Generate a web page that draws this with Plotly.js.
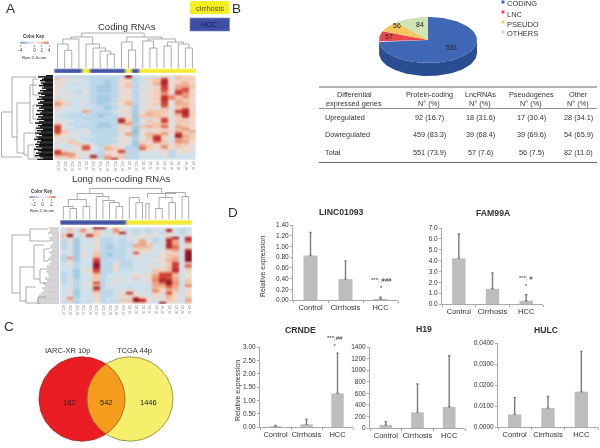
<!DOCTYPE html>
<html>
<head>
<meta charset="utf-8">
<script src="https://cdn.plot.ly/plotly-3.0.1.min.js"></script>
<style>
  html, body { margin: 0; padding: 0; background: #fff; }
  #chart { width: 600px; height: 448px; filter: blur(0.4px); }
  /* the reference heatmaps are soft, rows and columns bleed into each other */
  #chart .hm image { filter: blur(0.8px); }
</style>
</head>
<body>
<div id="chart"></div>
<script>
// --- data ---

// Panel A, coding RNAs: row z-scores
const codingZ = [
  [-1,-1,-1,-1,-1,-1,-1,-1,-1,-1,4,-1,-.5,-.5,0,.5,0,1,.5,.5],
  [1,.5,0,0,-.5,-1,-1,-1,-1,.5,1,-1,-.5,.5,1,3,0,1,.5,1],
  [.5,0,-.5,0,-.5,-1,-1,-1.5,-1,.5,.5,-1,-.5,.5,1,3.5,0,.5,1,.5],
  [0,-.5,-.5,-1,-.5,-1,-1,-1.5,-1,0,1,-1,-.5,.5,1.5,3.5,.5,1,1.5,.5],
  [.5,0,-.5,-.5,-.5,-1,-1.5,-1.5,-1,.5,1,-1,0,0,.5,3,0,1.5,1.5,1],
  [0,-.5,-.5,-.5,-.5,-1,-1.5,-1.5,-1,0,.5,-1,-.5,.5,1,3,.5,1.5,3,.5],
  [0,0,-.5,-1,0,-1,-1.5,-1.5,-1,.5,0,-1,-.5,0,.5,2.5,0,3,2.5,.5],
  [.5,0,-.5,-.5,-.5,-1,-1,-1,-1,0,.5,-1,0,.5,1,1.5,0,3,1.5,.5],
  [-.5,0,0,-.5,-.5,-1,-1.5,-1.5,-1,0,.5,-1,0,.5,.5,3,2,1,2,.5],
  [0,-.5,-.5,-.5,-.5,-1,-1.5,-1.5,-1,.5,0,-1,-.5,0,1,3.5,2,1,1,.5],
  [1,.5,-.5,-.5,0,-1,-1.5,-1.5,-1,.5,1,-1,0,.5,.5,3,0,1.5,1,.5],
  [2,1,-.5,-.5,-.5,-1,-1.5,-1,-.5,.5,1.5,-1,-.5,.5,1,3,0,1.5,1.5,.5],
  [1,0,-.5,-.5,-.5,-.5,-1,-1.5,-1,0,.5,-1.5,0,.5,0,2.5,0,1,1,.5],
  [0,0,0,-.5,0,-1,-1,-1.5,-1,0,0,-1,0,0,0,.5,0,1,3,.5],
  [0,-.5,-.5,-.5,1.5,-1,-1,-1,-.5,.5,.5,-1.5,0,1,1,1,0,3,3.5,.5],
  [-.5,-.5,-1,-1,-.5,-1,-1.5,-1.5,-1,0,0,-1.5,.5,1.5,1,.5,0,1.5,3.5,1],
  [-.5,-1,-1,-1,-1,-1,-1.5,-1,-1,0,.5,-1.5,1,1,1,1,0,1,3,.5],
  [0,-.5,-.5,-.5,-1,-1,-1,-1,-1,3,.5,-1.5,-.5,-.5,.5,3,0,.5,.5,.5],
  [0,0,-.5,-1,-.5,-1,-1,-1,-1,3.5,1,-1.5,0,1,.5,3,0,1,1,.5],
  [1,-.5,-1,-.5,-1,-1,-1.5,-1.5,-1,1,2,-1,-.5,0,1,1,0,.5,.5,.5],
  [3,0,-.5,-1,-1,-1,-1.5,-1.5,-1,.5,.5,-1.5,1,1.5,1,2.5,0,1.5,1,.5],
  [3,0,-.5,-.5,-.5,-1,-1,-1,-1,.5,0,-1.5,0,.5,0,.5,0,1,2,.5],
  [3,1,-.5,-.5,0,-1,-1,-1,-1,0,.5,-2,0,0,.5,1,.5,1.5,1,1.5],
  [2,.5,0,-.5,-.5,-1,-1,-1,-1,0,2,-1.5,.5,1.5,1,2,0,3.5,1,.5],
  [.5,0,0,0,-.5,-.5,-1,-1,-1,0,.5,-1.5,0,1,3,.5,0,3.5,1.5,1],
  [0,0,-.5,-.5,-1,-1,-1,-1,-.5,0,0,-1,0,1,3.5,.5,0,1.5,1,.5],
  [0,.5,1,0,-.5,-1,-1,-1,-1,.5,0,-1.5,.5,.5,2.5,1,0,2,1.5,.5],
  [-.5,-.5,.5,1,0,0,-1,-1,-.5,0,0,-1.5,1,.5,.5,.5,0,1,1,.5],
  [0,-.5,-.5,.5,2.5,0,-1,1,.5,0,-1,-1.5,2,1,.5,2,.5,1,.5,0],
  [.5,-.5,0,0,3,0,-.5,1.5,1,.5,-1,-1,2.5,.5,0,1,.5,0,.5,0],
  [3,1,0,0,.5,-.5,-1,.5,.5,3,-1,-1,0,0,0,.5,-1,0,.5,0],
  [3,2.5,2,0,0,-.5,-1,.5,.5,.5,-1,-1,-.5,-.5,-.5,0,-1,0,0,-.5],
  [1,1,1.5,.5,-.5,3.5,-1,1.5,.5,1,-1,-1,-.5,-.5,-.5,0,-1,-.5,-.5,-.5],
  [0,0,.5,0,0,1,-1,2,3.5,.5,-1,-1,-.5,-.5,-.5,-.5,-.5,-.5,-.5,-.5]
];
// 0 = HCC, 1 = cirrhosis
const codingGroups = [0,0,0,0,1,0,0,0,0,0,1,0,1,1,1,1,1,1,1,1];
const codingSamples = ['HCC_01','HCC_02','HCC_03','HCC_04','CIR_01','HCC_05','HCC_06','HCC_07','HCC_08','HCC_09','CIR_02','HCC_10','CIR_03','CIR_04','CIR_05','CIR_06','CIR_07','CIR_08','CIR_09','CIR_10'];
// [left, right, height, left child height, right child height]
const codingColLinks = [
  [1,2,17.7,0,0],[0,1.5,24,0,17.7],[.75,3,29,24,0],[7,8,14,0,0],[6,7.5,17,0,14],[5,6.75,20,0,17],[4,5.9,24,0,20],
  [1.9,4.95,31,29,24],[10,11,18,0,0],[9,10.5,26,0,18],[13,14,20,0,0],[12,13.5,27,0,20],[18,19,20,0,0],[17,18.5,24,0,20],
  [15,16,22,0,0],[15.5,17.75,26,22,24],[12.75,16.6,29,27,26],[9.75,14.7,31,26,29],[3.4,12.2,35,31,31]
];
// [top, bottom, depth, top child depth, bottom child depth]
const codingRowLinks = [
  [37,82,1.5,12,22],[2,62,12,36,17],[28,78,17,30,24],[10,48,30,37,33],[58,80,24,36,28],[70,84,28,34,38],
  [4,20,33,38,40],[30,44,33,39,37],[52,62,36,40,39],[73,82,34,40,41]
];
const codingCombLeft = [46,38,44,42,40,45,41,43,39,44,42,46,40,43,38,41,45,39,42,37,44,40,38,43,36,41,39,44,37,42,40,36,43,38,41,37,44,39,35,42,38,40,36,43,37,41,35,39,42,36,38,34,41,37,40,35,39,36,42,34,38,41,36,39,35,40,43,37];

// Panel A, long non-coding RNAs: row z-scores
const lncZ = [
  [-.5,1,-.5,0,0,4,4,0,1,0,-.5,-.5,-.5,-.5,0,0,0,-.5,-.5,-.5],
  [-.5,1,-.5,2,0,1,-.5,-.5,2,0,-.5,-1,-.5,-1,-.5,-.5,3.5,-.5,-1,-.5],
  [0,.5,-.5,.5,0,1,-.5,-.5,1,4,-.5,-1,-.5,-1,-.5,-1,.5,-.5,-1,0],
  [1,4,-.5,0,3,1,0,-.5,0,0,0,-.5,0,.5,0,0,0,0,-.5,.5],
  [0,.5,-1,0,-.5,0,-1,-1,-.5,-1,-.5,0,0,-.5,-1,-.5,2,4,-.5,3.5],
  [-1,0,-1.5,-.5,-.5,.5,-1,-1,-.5,-1,-.5,0,1.5,0,-1,-.5,3.5,1.5,-.5,3],
  [-1,0,-1.5,-.5,-.5,0,-1,-1,-.5,-1,-1,.5,1.5,.5,-1,-.5,3,1.5,-.5,1.5],
  [-1,-.5,-1.5,0,-.5,0,-1,-1.5,-.5,-1,-1,1.5,1.5,1,-.5,-.5,3.5,2,-.5,.5],
  [-1,-.5,-1.5,0,-.5,.5,-1,-1.5,-1,-1,-.5,1,1,1,-.5,0,3,2.5,-.5,.5],
  [-.5,-.5,-1.5,-.5,-.5,.5,-1,-1,-1,-1,-.5,.5,.5,.5,-.5,-.5,1,1.5,-.5,3.5],
  [-.5,-.5,-1.5,0,-.5,1,-1,-1.5,-1,-1,-.5,3,0,0,-.5,0,.5,.5,-.5,4],
  [-1,0,-1.5,0,-.5,1,-1,-1.5,-1,-1,-.5,.5,-.5,-.5,-.5,.5,1,1,-.5,4],
  [-1,2,-1.5,0,-.5,2,-1,-1,-1,-1,-.5,-.5,-.5,-.5,0,.5,.5,1.5,-.5,4],
  [-1,.5,-1.5,-.5,-.5,3,-1,-1,-.5,-1,-1,-.5,-.5,-.5,0,0,1.5,1.5,-.5,4],
  [-.5,0,-1,-.5,-.5,3.5,-1,-1,0,-1,-1,-.5,-.5,-.5,-.5,.5,.5,3,-.5,.5],
  [-.5,0,-1,-.5,-.5,4,-1,-1,.5,-1,-1,-.5,-.5,0,-.5,0,1,3,-.5,2.5],
  [-.5,-.5,-1,0,-.5,3.5,-1,-1,.5,-1,-1,-.5,-.5,-.5,.5,.5,1,3,-.5,1.5],
  [-.5,-.5,-1.5,0,.5,3,-1,-1,.5,-.5,-.5,-.5,-.5,-.5,1,.5,1,3.5,-.5,.5],
  [-1,-.5,-1.5,-.5,0,2,-1,-1,-.5,-.5,-.5,0,-.5,0,1,2.5,2.5,2,-.5,.5],
  [-1,-.5,-1.5,-.5,0,1,-1,-.5,-.5,-.5,-.5,.5,0,.5,1.5,3,3,1,-.5,0],
  [-1,0,-1.5,-.5,-.5,1,-1,-.5,0,-.5,-.5,1,-.5,0,2,3,2.5,1.5,-.5,.5],
  [-1,0,-1,-.5,-.5,1,-1,-.5,.5,-.5,0,-.5,-.5,.5,2,3.5,3.5,1.5,-.5,1],
  [-1,-.5,-1,0,0,3,-1,-.5,0,0,-.5,-.5,0,-.5,1.5,2.5,4,2,-.5,.5],
  [-.5,-.5,-1,-.5,0,1.5,-1,-.5,-.5,-.5,-.5,-.5,-.5,-.5,1.5,1.5,3,1.5,-.5,2],
  [-.5,-.5,-1,0,-.5,4,-1,-.5,-.5,-.5,-1,-.5,-.5,-.5,1,1,2,1.5,-.5,.5],
  [-.5,.5,-1.5,-.5,-.5,2,-1,-1,-.5,0,.5,-.5,-.5,-.5,2,.5,1.5,1,-.5,.5],
  [-.5,0,-1.5,-.5,-.5,.5,-1,-1,-.5,0,3.5,0,0,-.5,1,.5,3,.5,-.5,.5],
  [-.5,0,-1.5,-.5,-.5,.5,-1,-1,-.5,.5,1,0,0,-.5,.5,-.5,1.5,.5,-.5,.5],
  [0,2,-1,-.5,-.5,.5,-1,-.5,-.5,0,-.5,3,1,0,.5,.5,1,.5,-.5,1],
  [-.5,1,-1,-.5,-.5,.5,-1,-.5,-.5,1,1,4,3.5,.5,-.5,0,1,.5,-.5,1.5],
  [-1,-.5,-1.5,-1,-1,0,-1,-1,-1,.5,.5,1,1,-.5,-.5,4,.5,0,-.5,1]
];
const lncGroups = [0,0,0,0,0,0,0,0,0,0,1,1,1,1,1,1,1,1,1,1];
const lncSamples = ['HCC_01','HCC_02','HCC_03','HCC_04','HCC_05','HCC_06','HCC_07','HCC_08','HCC_09','HCC_10','CIR_01','CIR_02','CIR_03','CIR_04','CIR_05','CIR_06','CIR_07','CIR_08','CIR_09','CIR_10'];
const lncColLinks = [
  [1,2,11,0,0],[0,1.5,13,0,11],[3,4,13,0,0],[.75,3.5,20,13,13],[8,9,13,0,0],[7,8.5,17,0,13],[6,7.75,19,0,17],[5,6.9,23,0,19],
  [2.1,6,26,20,23],[11,12,17,0,0],[12.5,13,16,0,0],[10,11.5,22,0,17],[14,15,11,0,0],[16,17,17,0,0],[18,19,23,0,0],
  [14.5,16.5,22,11,17],[15.5,18.5,27,22,23],[12.75,17,26,22,27],[4,14.9,31,26,26]
];
const lncRowLinks = [
  [8,66,12,30,20],[2,14,30,48,50],[40,74,20,34,26],[18,52,34,44,40],[60,76,26,36,38],[22,34,44,50,48],[42,56,40,50,46],[70,77,38,46,40]
];
const lncCombLeft = [49,50,48,52,49,50,53,51,50,52,49,51,50,48,51,49,47,50,46,48,49,45,47,43,45,42,44,41,39,38,37,38];

// Panel A, colour keys
const codingKeyValues = [-4,-3,-2,-1,0,1,2,3,4];
const codingKeyTicks = [-4,0,2,4];
const lncKeyValues = [-3,-2,-1,0,1,2,3];
const lncKeyTicks = [-2,0,2];

// Panel B, pie and table
const pieLabels = ['CODING', 'LNC', 'PSEUDO', 'OTHERS'];
const pieValues = [551, 57, 56, 84];
const tableHeaderTop = ['Differential', 'Protein-coding', 'LncRNAs', 'Pseudogenes', 'Other'];
const tableHeaderBottom = ['expressed genes', 'N° (%)', 'N° (%)', 'N° (%)', 'N° (%)'];
const tableRowNames = ['Upregulated', 'Dowregulated', 'Total'];
const tableCoding = ['92 (16.7)', '459 (83.3)', '551 (73.9)'];
const tableLnc = ['18 (31.6)', '39 (68.4)', '57 (7.6)'];
const tablePseudo = ['17 (30.4)', '39 (69.6)', '56 (7.5)'];
const tableOther = ['28 (34.1)', '54 (65.9)', '82 (11.0)'];

// Panel C, Venn counts
const vennTitles = ['IARC-XR 10p', 'TCGA 44p'];
const vennCounts = ['182', '542', '1446'];

// Panel D, bars: mean and upper error
const groups = ['Control', 'Cirrhosis', 'HCC'];
const linc01093Mean = [0.83, 0.39, 0.02];
const linc01093Err = [0.43, 0.34, 0.03];
const fam99aMean = [4.2, 1.4, 0.3];
const fam99aErr = [2.25, 1.45, 0.55];
const crndeMean = [0.03, 0.1, 1.26];
const crndeErr = [0.03, 0.18, 1.51];
const h19Mean = [50, 270, 365];
const h19Err = [60, 490, 885];
const hulcMean = [0.006, 0.009, 0.0168];
const hulcErr = [0.008, 0.0055, 0.0192];

// --- helpers ---

const FONT = '"Liberation Sans", Arial, sans-serif';
const traces = [];
const annotations = [];
const shapes = [];
const layout = {
    width: 600,
    height: 448,
    margin: { l: 0, r: 0, t: 0, b: 0 },
    paper_bgcolor: '#fff',
    plot_bgcolor: 'rgba(0,0,0,0)',
    showlegend: false,
    font: { family: FONT, color: '#333' }
};

const hidden = { visible: false, fixedrange: true };
let axisCount = 0;

// makes an x/y axis pair placed by pixels, returns the ids for a trace
const addAxes = (left, right, top, bottom, xOpts, yOpts) => {
    axisCount += 1;
    const n = axisCount === 1 ? '' : axisCount;
    layout['xaxis' + n] = Object.assign({}, hidden, {
        domain: [left / 600, right / 600], anchor: 'y' + n
    }, xOpts);
    layout['yaxis' + n] = Object.assign({}, hidden, {
        domain: [1 - bottom / 448, 1 - top / 448], anchor: 'x' + n
    }, yOpts);
    return { xaxis: 'x' + n, yaxis: 'y' + n };
};

const note = (text, x, y, size, extra) => {
    annotations.push(Object.assign({
        text: text, x: x / 600, y: 1 - y / 448, xref: 'paper', yref: 'paper',
        showarrow: false, xanchor: 'center', yanchor: 'middle', borderpad: 0,
        font: { size: size, family: FONT, color: '#333' }
    }, extra));
};

const hline = (x0, x1, y, color, width) => {
    shapes.push({
        type: 'line', xref: 'paper', yref: 'paper', x0: x0 / 600, x1: x1 / 600,
        y0: 1 - y / 448, y1: 1 - y / 448, line: { color: color, width: width }
    });
};

const heatScale = [
    [0, '#2b4b9b'], [0.25, '#8fbcdc'], [0.375, '#bcd7ea'], [0.44, '#d0e0ea'], [0.5, '#e0dedc'],
    [0.56, '#efd8ca'], [0.625, '#f2c4aa'], [0.75, '#e88a66'], [0.875, '#cf3d33'], [1, '#8f0d22']
];

// U shaped links for a column dendrogram
const colDendro = (links, axes) => {
    const x = [], y = [];
    links.forEach(l => {
        x.push(l[0], l[0], l[1], l[1], null);
        y.push(l[3], l[2], l[2], l[4], null);
    });
    traces.push(Object.assign({ type: 'scatter', mode: 'lines', x: x, y: y, line: { color: '#8a8a8a', width: 0.7 }, hoverinfo: 'skip' }, axes));
};

// sideways links and the dense leaf comb of a row dendrogram
const rowDendro = (links, comb, combEnd, combColor, combWidth, axes) => {
    const x = [], y = [];
    links.forEach(l => {
        x.push(l[3], l[2], l[2], l[4], null);
        y.push(l[0], l[0], l[1], l[1], null);
    });
    const cx = [], cy = [];
    comb.forEach((left, i) => {
        const pos = (i + 0.5) * comb.total / comb.length;
        cx.push(left, combEnd, null);
        cy.push(pos, pos, null);
    });
    traces.push(Object.assign({ type: 'scatter', mode: 'lines', x: cx, y: cy, line: { color: combColor, width: combWidth }, hoverinfo: 'skip' }, axes));
    traces.push(Object.assign({ type: 'scatter', mode: 'lines', x: x, y: y, line: { color: '#8a8a8a', width: 0.7 }, hoverinfo: 'skip' }, axes));
};

const heatPanel = (z, sampleNames, sideGroups, left, right, top, bottom, barTop, barBottom) => {
    const idx = sampleNames.map((s, i) => i);
    const axes = addAxes(left, right, top, bottom, {
        visible: true, range: [-0.5, idx.length - 0.5], tickvals: idx, ticktext: sampleNames,
        tickangle: 90, ticks: '', showline: false, showgrid: false, zeroline: false,
        tickfont: { size: 2.6, color: '#888', family: FONT }
    }, { range: [z.length - 0.5, -0.5] });
    traces.push(Object.assign({
        type: 'heatmap', z: z, zmin: -4, zmax: 4,
        colorscale: heatScale, showscale: false, hoverinfo: 'skip'
    }, axes));
    const sideAxes = addAxes(left, right, barTop, barBottom, { range: [-0.5, idx.length - 0.5] }, {});
    traces.push(Object.assign({
        type: 'heatmap', z: [sideGroups], zmin: 0, zmax: 1,
        colorscale: [[0, '#3c4ea3'], [1, '#f4e82c']], showscale: false, hoverinfo: 'skip', xgap: 0
    }, sideAxes));
};

const keyPanel = (values, ticks, left, right, top, bottom) => {
    const axes = addAxes(left, right, top, bottom, {
        visible: true, range: [values[0], values[values.length - 1]], tickvals: ticks,
        ticks: 'outside', ticklen: 2, tickwidth: 0.5, tickcolor: '#555', showgrid: false, zeroline: false,
        tickfont: { size: 4.5, color: '#444', family: FONT }
    }, { range: [-0.5, 0.5] });
    traces.push(Object.assign({
        type: 'heatmap', x: values, z: [values], zmin: values[0], zmax: values[values.length - 1],
        zsmooth: 'best', colorscale: heatScale, showscale: false, hoverinfo: 'skip'
    }, axes));
};

const barPanel = (means, errs, left, right, top, bottom, maxY, step, fmt) => {
    const axes = addAxes(left, right, top, bottom, {
        visible: true, type: 'category', categoryorder: 'array', categoryarray: groups,
        tickson: 'boundaries', ticks: 'outside', ticklen: 2, tickcolor: '#aaa', showline: true, tickangle: 0,
        linecolor: '#aaa', linewidth: 1, showgrid: false, zeroline: false,
        tickfont: { size: 7.5, color: '#333', family: FONT }
    }, {
        visible: true, range: [0, maxY], dtick: step, tickformat: fmt, ticks: 'outside', ticklen: 2,
        tickcolor: '#aaa', showline: true, linecolor: '#aaa', linewidth: 1, showgrid: false, zeroline: false,
        tickfont: { size: 6.5, color: '#333', family: FONT }
    });
    traces.push(Object.assign({
        type: 'bar', x: groups, y: means, width: 0.4, marker: { color: '#bdbdbd' }, hoverinfo: 'skip',
        error_y: { type: 'data', symmetric: false, array: errs, arrayminus: [0, 0, 0], color: '#7c7c7c', thickness: 1.4, width: 1.2 }
    }, axes));
};

// --- panel A ---

heatPanel(codingZ, codingSamples, codingGroups, 54, 196, 75, 160, 68.5, 73);
const codingColAxes = addAxes(54, 196, 32, 68, { range: [-0.5, 19.5] }, { range: [0, 36] });
colDendro(codingColLinks, codingColAxes);
const codingRowAxes = addAxes(0, 53, 75, 160, { range: [0, 53] }, { range: [85, 0] });
codingCombLeft.total = 85;
rowDendro(codingRowLinks, codingCombLeft, 53, '#111', 1.5, codingRowAxes);
keyPanel(codingKeyValues, codingKeyTicks, 20, 49, 41.5, 44);

heatPanel(lncZ, lncSamples, lncGroups, 60, 192, 227, 304, 220, 225);
const lncColAxes = addAxes(60, 192, 187, 219.5, { range: [-0.5, 19.5] }, { range: [0, 32.5] });
colDendro(lncColLinks, lncColAxes);
const lncRowAxes = addAxes(0, 59, 227, 304, { range: [0, 59] }, { range: [77, 0] });
lncCombLeft.total = 77;
rowDendro(lncRowLinks, lncCombLeft, 59, '#d2d2d2', 2.6, lncRowAxes);
keyPanel(lncKeyValues, lncKeyTicks, 29, 56, 196, 198);

note('A', 10, 8, 13.5);
note('Coding RNAs', 126.5, 26, 9.5);
note('Long non-coding RNAs', 121, 178, 9.5);
note('<b>Color Key</b>', 34, 37, 4.5);
note('Row Z-Score', 34, 58, 4.2);
note('<b>Color Key</b>', 42, 191, 4.5);
note('Row Z-Score', 42, 211, 4.2);

// group key boxes
shapes.push({ type: 'rect', xref: 'paper', yref: 'paper', x0: 190 / 600, x1: 229.5 / 600, y0: 1 - 14 / 448, y1: 1 - 1 / 448, fillcolor: '#f6ee1e', line: { width: 0 } });
shapes.push({ type: 'rect', xref: 'paper', yref: 'paper', x0: 190 / 600, x1: 229.5 / 600, y0: 1 - 31 / 448, y1: 1 - 18 / 448, fillcolor: '#3f4fa5', line: { color: '#7f8ac4', width: 0.7 } });
note('cirrhosis', 209.5, 8, 7.5, { font: { size: 7.5, family: FONT, color: '#55551a' } });
note('HCC', 209.5, 25, 7.5, { font: { size: 7.5, family: FONT, color: '#141a55' } });

// --- panel B ---

const pieAxes = addAxes(368, 488, 5, 85, { range: [-60, 60] }, { range: [-45, 35] });
const pieColors = ['#3f67b5', '#e8474e', '#f8c55e', '#d0e4b8'];
const pieSideColors = ['#2a4c90', '#b03338', '#c79a40', '#a4b690'];
const pieTotal = pieValues.reduce((a, b) => a + b, 0);
const pieRx = 49, pieRy = 23, pieDepth = 13;
let pieStart = 0;
pieValues.forEach((value, i) => {
    const a0 = 90 - 360 * pieStart / pieTotal;
    const a1 = 90 - 360 * (pieStart + value) / pieTotal;
    const edgeX = [], edgeY = [];
    for (let k = 0; k <= 90; k++) {
        const t = (a0 + (a1 - a0) * k / 90) * Math.PI / 180;
        edgeX.push(pieRx * Math.cos(t));
        edgeY.push(pieRy * Math.sin(t));
    }
    // rim of the slice, only where it faces the front
    const frontX = edgeX.filter((v, k) => edgeY[k] <= 0);
    const frontY = edgeY.filter(v => v <= 0);
    if (frontX.length > 1) {
        traces.push(Object.assign({
            type: 'scatter', mode: 'lines', fill: 'toself', fillcolor: pieSideColors[i], line: { width: 0 }, hoverinfo: 'skip',
            x: frontX.concat(frontX.slice().reverse()),
            y: frontY.concat(frontY.slice().reverse().map(v => v - pieDepth))
        }, pieAxes));
    }
    pieStart += value;
});
pieStart = 0;
pieValues.forEach((value, i) => {
    const a0 = 90 - 360 * pieStart / pieTotal;
    const a1 = 90 - 360 * (pieStart + value) / pieTotal;
    const sx = [0], sy = [0];
    for (let k = 0; k <= 90; k++) {
        const t = (a0 + (a1 - a0) * k / 90) * Math.PI / 180;
        sx.push(pieRx * Math.cos(t));
        sy.push(pieRy * Math.sin(t));
    }
    sx.push(0);
    sy.push(0);
    traces.push(Object.assign({
        type: 'scatter', mode: 'lines', fill: 'toself', fillcolor: pieColors[i], line: { width: 0 }, hoverinfo: 'skip', x: sx, y: sy
    }, pieAxes));
    pieStart += value;
});

const pieLabelX = [452, 389, 397, 420];
const pieLabelY = [48, 36, 25.5, 25];
pieValues.forEach((value, i) => note(String(value), pieLabelX[i], pieLabelY[i], 7, { font: { size: 7, family: FONT, color: '#222' } }));

const legendY = [4, 14, 24, 34];
pieLabels.forEach((label, i) => {
    shapes.push({ type: 'rect', xref: 'paper', yref: 'paper', x0: 501.5 / 600, x1: 504.5 / 600, y0: 1 - (legendY[i] - 0.5) / 448, y1: 1 - (legendY[i] - 3.5) / 448, fillcolor: pieColors[i], line: { width: 0 } });
    note(label, 506, legendY[i], 7.5, { xanchor: 'left' });
});

note('B', 236, 8, 13.5);

const tableColX = [354, 429, 480, 531, 578];
tableHeaderTop.forEach((t, i) => note(t, tableColX[i], 94.5, 7.3));
tableHeaderBottom.forEach((t, i) => note(t, tableColX[i], 103, 7.3));
const tableRowY = [117, 134.5, 152];
tableRowNames.forEach((t, i) => {
    note(t, 324, tableRowY[i], 7.3, { xanchor: 'left' });
    note(tableCoding[i], tableColX[1], tableRowY[i], 7.3);
    note(tableLnc[i], tableColX[2], tableRowY[i], 7.3);
    note(tablePseudo[i], tableColX[3], tableRowY[i], 7.3);
    note(tableOther[i], tableColX[4], tableRowY[i], 7.3);
});
hline(319, 597, 87, '#666', 1);
hline(319, 597, 108.5, '#777', 0.8);
hline(319, 597, 162.5, '#666', 1);

// --- panel C ---

const vennAxes = addAxes(30, 180, 350, 450, { range: [30, 180] }, { range: [450, 350] });
const vennR = 43;
const circlePoints = (cx, cy, r, from, to) => {
    const xs = [], ys = [];
    for (let k = 0; k <= 120; k++) {
        const t = (from + (to - from) * k / 120) * Math.PI / 180;
        xs.push(cx + r * Math.cos(t));
        ys.push(cy + r * Math.sin(t));
    }
    return { x: xs, y: ys };
};
const leftCircle = circlePoints(82, 400, vennR, 0, 360);
const rightCircle = circlePoints(130, 400, vennR, 0, 360);
const lensAngle = Math.acos(24 / vennR) * 180 / Math.PI;
const lensA = circlePoints(82, 400, vennR, -lensAngle, lensAngle);
const lensB = circlePoints(130, 400, vennR, 180 - lensAngle, 180 + lensAngle);
traces.push(Object.assign({ type: 'scatter', mode: 'lines', fill: 'toself', fillcolor: '#ec1c24', line: { color: '#8e2a25', width: 0.8 }, hoverinfo: 'skip' }, leftCircle, vennAxes));
traces.push(Object.assign({ type: 'scatter', mode: 'lines', fill: 'toself', fillcolor: '#f5ef6c', line: { color: '#85803a', width: 0.8 }, hoverinfo: 'skip' }, rightCircle, vennAxes));
traces.push(Object.assign({
    type: 'scatter', mode: 'lines', fill: 'toself', fillcolor: '#f59c1c', line: { color: '#8a5a20', width: 0.8 }, hoverinfo: 'skip',
    x: lensA.x.concat(lensB.x), y: lensA.y.concat(lensB.y)
}, vennAxes));

note('C', 9, 326, 13.5);
note(vennTitles[0], 67, 350, 7.5);
note(vennTitles[1], 134, 350, 7.5);
const vennCountX = [69, 106.5, 148.5];
vennCounts.forEach((t, i) => note(t, vennCountX[i], 402, 7.5, { font: { size: 7.5, family: FONT, color: '#222' } }));

// --- panel D ---

barPanel(linc01093Mean, linc01093Err, 293, 398, 225, 300, 1.4, 0.2, '.2f');
barPanel(fam99aMean, fam99aErr, 442, 543, 228, 304, 7, 1, '.1f');
barPanel(crndeMean, crndeErr, 260, 353, 347, 427, 3, 0.5, '.2f');
barPanel(h19Mean, h19Err, 370, 465, 347, 428, 1400, 200, 'd');
barPanel(hulcMean, hulcErr, 498, 598, 343, 427, 0.04, 0.01, '.4f');

note('D', 233, 212, 13.5);
note('<b>LINC01093</b>', 342, 212, 8.7);
note('<b>FAM99A</b>', 493, 213, 8.7);
note('<b>CRNDE</b>', 300, 330, 8.7);
note('<b>H19</b>', 424, 329, 8.7);
note('<b>HULC</b>', 546, 330, 8.7);
note('Relative expression', 263, 267, 7, { textangle: -90 });
note('Relative expression', 238, 391, 7, { textangle: -90 });
// the second star line sits in the same label so the two cannot collide
note('***; <i>###</i><br>*', 381, 284, 6);
note('***; <i>#</i><br>*', 526, 282, 6);
note('***;<i>##</i><br>*', 335, 342, 6);

Plotly.newPlot('chart', traces, Object.assign(layout, { annotations: annotations, shapes: shapes }), { displayModeBar: false, staticPlot: true });
</script>
</body>
</html>
